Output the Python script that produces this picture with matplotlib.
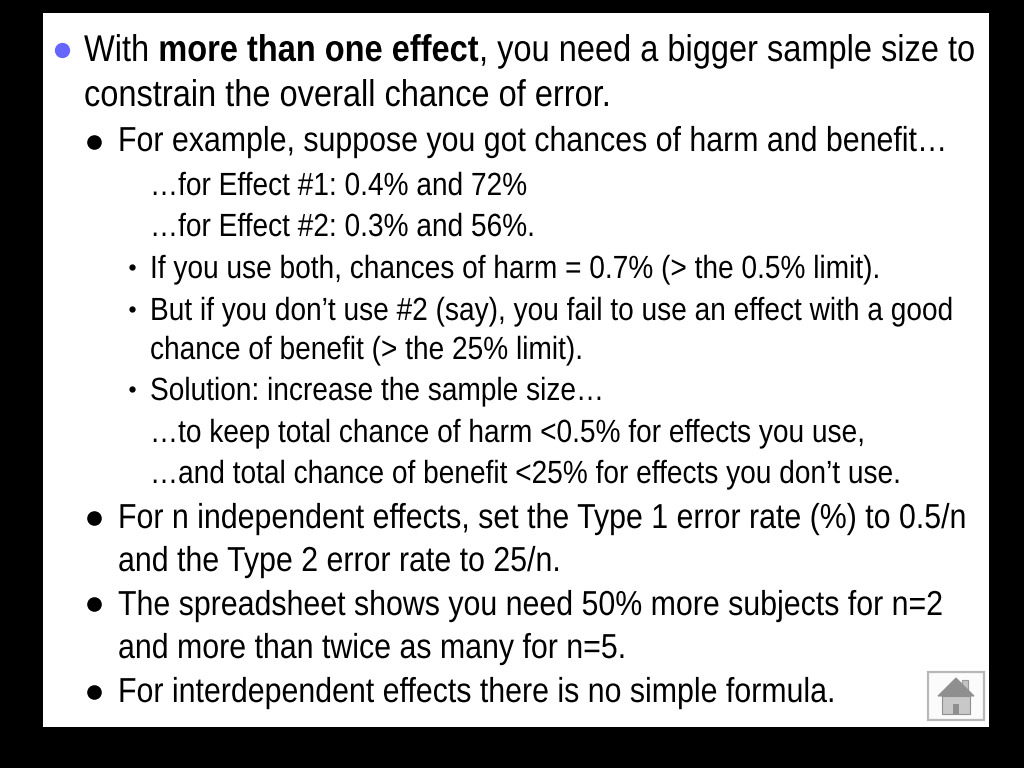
import matplotlib
matplotlib.use("Agg")
import matplotlib.pyplot as plt
import matplotlib.patheffects as pe
from matplotlib.patches import Rectangle, Polygon
from matplotlib.text import Text
from matplotlib.transforms import Affine2D, Bbox

BG = "#000000"
BULLET_BLUE = "#6666ff"
NARROW = 0.875  # slide text is squeezed horizontally

plt.rcParams['font.family'] = ['Liberation Sans', 'DejaVu Sans']

line_x = [118, 150, 150, 150, 150, 150, 150, 150, 150, 118, 118, 118, 118, 118]
line_y = [151, 195, 236, 278, 320, 359, 400, 442, 483, 528, 571, 615, 658, 702]
line_size = [24.95, 23.1, 23.1, 23.1, 23.1, 23.1, 23.1, 23.1, 23.1, 24.95, 24.95, 24.95, 24.95, 24.95]
line_text = [
    "For example, suppose you got chances of harm and benefit…",
    "…for Effect #1: 0.4% and 72%",
    "…for Effect #2: 0.3% and 56%.",
    "If you use both, chances of harm = 0.7% (> the 0.5% limit).",
    "But if you don’t use #2 (say), you fail to use an effect with a good",
    "chance of benefit (> the 25% limit).",
    "Solution: increase the sample size…",
    "…to keep total chance of harm <0.5% for effects you use,",
    "…and total chance of benefit <25% for effects you don’t use.",
    "For n independent effects, set the Type 1 error rate (%) to 0.5/n",
    "and the Type 2 error rate to 25/n.",
    "The spreadsheet shows you need 50% more subjects for n=2",
    "and more than twice as many for n=5.",
    "For interdependent effects there is no simple formula.",
]
big_dots = [142, 518, 604, 692]
small_dots = [267, 309, 389]


class Squeeze(pe.AbstractPathEffect):
    def draw_path(self, renderer, gc, tpath, affine, rgbFace=None):
        m = affine.get_matrix().copy()
        m[0, 0] *= NARROW
        renderer.draw_path(gc, tpath, Affine2D(m), rgbFace)


class NarrowText(Text):
    def get_window_extent(self, renderer=None, dpi=None):
        bb = super().get_window_extent(renderer, dpi)
        return Bbox([[bb.x0, bb.y0], [bb.x0 + bb.width * NARROW, bb.y1]])


def put_text(ax, x, y, s, size, weight="normal"):
    t = NarrowText(x, y, s, fontsize=size, fontweight=weight, va="baseline", color="black",
                   path_effects=[Squeeze()])
    ax.add_artist(t)
    return t


fig = plt.figure(figsize=(10.24, 7.68), dpi=100, facecolor=BG)
ax = fig.add_axes([0, 0, 1, 1])
ax.set_xlim(0, 1024)
ax.set_ylim(768, 0)
ax.axis("off")

ax.add_patch(Rectangle((43, 13), 946, 714, fc="white", ec="none"))

# first line has a bold run in the middle
fig.canvas.draw()
r = fig.canvas.get_renderer()
x = 84
for txt, w in [("With ", "normal"), ("more than one effect", "bold"),
               (", you need a bigger sample size to", "normal")]:
    t = put_text(ax, x, 61, txt.replace(" ", "\u00a0"), 26.8, w)
    x = t.get_window_extent(r).x1
put_text(ax, 84, 106, "constrain the overall chance of error.", 26.8)

for tx, ty, ts, s in zip(line_x, line_y, line_size, line_text):
    put_text(ax, tx, ty, s, ts)

ax.plot([62], [50], "o", ms=10, color=BULLET_BLUE)
ax.plot([94] * len(big_dots), big_dots, "o", ms=9.5, color="black", ls="none")
ax.plot([132] * len(small_dots), small_dots, "o", ms=3.5, color="black", ls="none")

# home button
ax.add_patch(Rectangle((928, 672), 56, 48, fc="#fbfbfb", ec="#b8b8b8", lw=1.6))
ax.add_patch(Rectangle((962, 680), 6, 12, fc="#c4c4c4", ec="#999999", lw=0.8))
ax.add_patch(Rectangle((942, 696), 28, 18, fc="#c8c8c8", ec="#909090", lw=0.8))
ax.add_patch(Polygon([(938, 696), (956, 678), (974, 696)], fc="#8f8f8f", ec="#8f8f8f", lw=0.8))
ax.add_patch(Rectangle((953, 704), 6, 10, fc="#8f8f8f", ec="none"))

fig.savefig("out.png", dpi=100, facecolor=BG)
